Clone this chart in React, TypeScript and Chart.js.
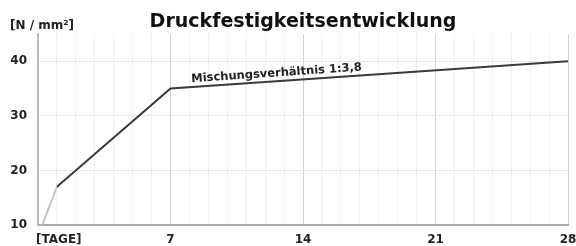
import React, { useEffect, useRef } from "react";
import { Chart, registerables } from "chart.js";

Chart.register(...registerables);

const TITLE = "Druckfestigkeitsentwicklung";
const Y_UNIT = "[N / mm²]";
const X_UNIT = "[TAGE]";
const SERIES_LABEL = "Mischungsverhältnis 1:3,8";
const days = [0, 1, 7, 28];
const strength = [8, 17, 35, 40];
const xTickLabels = [7, 14, 21, 28];
const yTickValues = [10, 20, 30, 40];

const FONT = "'DejaVu Sans', Verdana, sans-serif";

const textPlugin = {
  id: "texts",
  afterDraw(chart: any) {
    const { ctx, chartArea, scales } = chart;
    const xs = scales.x;
    const ys = scales.y;
    ctx.save();
    // title
    ctx.fillStyle = "#111";
    ctx.font = `bold 19px ${FONT}`;
    ctx.textAlign = "center";
    ctx.textBaseline = "alphabetic";
    ctx.fillText(TITLE, (chartArea.left + chartArea.right) / 2, 27);
    // y unit
    ctx.font = `bold 12px ${FONT}`;
    ctx.fillStyle = "#222";
    ctx.textAlign = "left";
    ctx.textBaseline = "middle";
    ctx.fillText(Y_UNIT, 10, 26);
    // x unit
    ctx.fillText(X_UNIT, chartArea.left - 2, 240);
    // series label along line
    const x0 = xs.getPixelForValue(days[2]);
    const y0 = ys.getPixelForValue(strength[2]);
    const x1 = xs.getPixelForValue(days[3]);
    const y1 = ys.getPixelForValue(strength[3]);
    const ang = Math.atan2(y1 - y0, x1 - x0);
    const startX = x0 + 21;
    const t = (startX - x0) / (x1 - x0);
    const lineY = y0 + t * (y1 - y0);
    ctx.translate(startX, lineY - 5);
    ctx.rotate(ang);
    ctx.font = `bold 11.5px ${FONT}`;
    ctx.textBaseline = "alphabetic";
    ctx.fillStyle = "#222";
    ctx.fillText(SERIES_LABEL, 0, 0);
    ctx.restore();
  },
};

export default function App() {
  const ref = useRef<HTMLCanvasElement>(null);
  useEffect(() => {
    const chart = new Chart(ref.current as HTMLCanvasElement, {
      type: "line",
      data: {
        datasets: [
          {
            data: days.map((d, i) => ({ x: d, y: strength[i] })),
            borderColor: "#3a3a3a",
            borderWidth: 2,
            pointRadius: 0,
            tension: 0,
            segment: {
              borderColor: (c: any) => (c.p0DataIndex === 0 ? "#c4c4c4" : "#3a3a3a"),
            },
          },
        ],
      },
      options: {
        animation: false,
        responsive: true,
        maintainAspectRatio: false,
        layout: { padding: { top: 34, right: 0, left: 0, bottom: 0 } },
        plugins: { legend: { display: false }, tooltip: { enabled: false }, title: { display: false } },
        scales: {
          x: {
            type: "linear",
            min: 0,
            max: 28,
            afterFit: (s: any) => {
              s.height = 21;
              s.paddingRight = 8;
              s.paddingLeft = 0;
            },
            ticks: {
              stepSize: 1,
              autoSkip: false,
              maxRotation: 0,
              padding: 8,
              color: "#222",
              font: { family: FONT, size: 12, weight: "bold" },
              callback: (v: any) => (xTickLabels.includes(Number(v)) ? String(v) : ""),
            },
            grid: {
              drawTicks: false,
              color: (c: any) => (c.tick && c.tick.value % 7 === 0 ? "#d2d2d2" : "#efefef"),
              lineWidth: 1,
            },
            border: { color: "#aaa", width: 2 },
          },
          y: {
            type: "linear",
            min: 10,
            max: 45,
            afterFit: (s: any) => {
              s.width = 38;
            },
            afterBuildTicks: (s: any) => {
              s.ticks = yTickValues.map((v) => ({ value: v }));
            },
            ticks: {
              padding: 11,
              color: "#222",
              font: { family: FONT, size: 12, weight: "bold" },
            },
            grid: { drawTicks: false, color: "#e6e6e6" },
            border: { color: "#bbb", width: 2 },
          },
        },
      },
      plugins: [textPlugin],
    } as any);
    return () => chart.destroy();
  }, []);
  return (
    <div style={{ position: "fixed", left: 0, top: 0, width: 576, height: 246, background: "#fff" }}>
      <canvas ref={ref} />
    </div>
  );
}
